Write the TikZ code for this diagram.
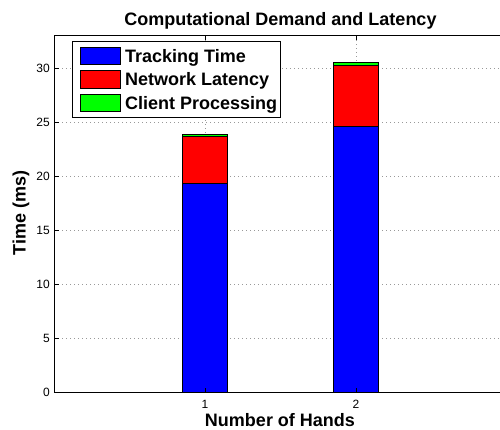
\documentclass[tikz,border=0pt]{standalone}
\usepackage{fontspec}
\setmainfont{Liberation Sans}
\definecolor{trackcol}{RGB}{0,0,255}
\definecolor{netcol}{RGB}{255,0,0}
\definecolor{clientcol}{RGB}{0,255,0}
\tikzset{
  grid/.style={gray!80,line width=0.6pt,dash pattern=on 0.6pt off 3.4pt},
  axis/.style={black,line width=0.8pt},
  bar/.style={draw=black,line width=0.8pt},
  ytick/.style={anchor=east,inner sep=0pt,text depth=0pt,xshift=-4pt},
  xtick/.style={anchor=center,inner sep=0pt,text depth=0pt,yshift=-11.7pt},
  biglabel/.style={font=\fontsize{18}{20}\selectfont\bfseries,inner sep=0pt}
}
\begin{document}
\begin{tikzpicture}[x=1pt,y=1pt,line join=miter,font=\fontsize{12}{14}\selectfont]
\useasboundingbox (0,0) rectangle (500,430);
\clip (0,0) rectangle (500,430);
% Lưới, các cột và trục
\begin{scope}[shift={(54pt,37.7pt)},x=151pt,y=10.8pt]
  \foreach \v in {5,10,...,30}
    \draw[grid] (0,\v) -- (3,\v);
  \foreach \h in {1,2}
    \draw[grid] (\h,0) -- (\h,33);
  % Các cột chồng
  \foreach \h/\a/\b/\c in {1/19.38/23.67/23.85, 2/24.6/30.25/30.5}{
    \draw[bar,fill=trackcol] (\h-0.15,0) rectangle (\h+0.15,\a);
    \draw[bar,fill=netcol] (\h-0.15,\a) rectangle (\h+0.15,\b);
    \draw[bar,fill=clientcol] (\h-0.15,\b) rectangle (\h+0.15,\c);
  }
  % Khung trục và vạch chia (cạnh phải nằm ngoài hình)
  \draw[axis] (3,0) -- (0,0) -- (0,33) -- (3,33);
  \foreach \v in {0,5,...,30}{
    \draw[axis] (0,\v) -- ++(4.5pt,0);
    \node[ytick] (y\v) at (0,\v) {\v};
  }
  \foreach \h in {1,2}{
    \draw[axis] (\h,0) -- ++(0,4.5pt);
    \draw[axis] (\h,33) -- ++(0,-4.5pt);
    \node[xtick] (x\h) at (\h,0) {\h};
  }
\end{scope}
% Tiêu đề và nhãn trục
\node[biglabel,anchor=base] (title) at (280.5,404) {Computational Demand and Latency};
\node[biglabel,anchor=base] (xlab) at (280,3.5) {Number of Hands};
\node[biglabel,rotate=90] (ylab) at (21,217) {Time (ms)};
% Chú thích
\draw[fill=white,line width=0.8pt] (72,312.7) rectangle (280.7,388.3);
\foreach \c/\t/\k in {trackcol/Tracking Time/0, netcol/Network Latency/1, clientcol/Client Processing/2}{
  \draw[bar,fill=\c] (80,365.3-23.5*\k) rectangle (120.7,382.7-23.5*\k);
  \node[biglabel,anchor=base west] (leg\k) at (125,367.5-23.5*\k) {\t};
}
\end{tikzpicture}
\end{document}
